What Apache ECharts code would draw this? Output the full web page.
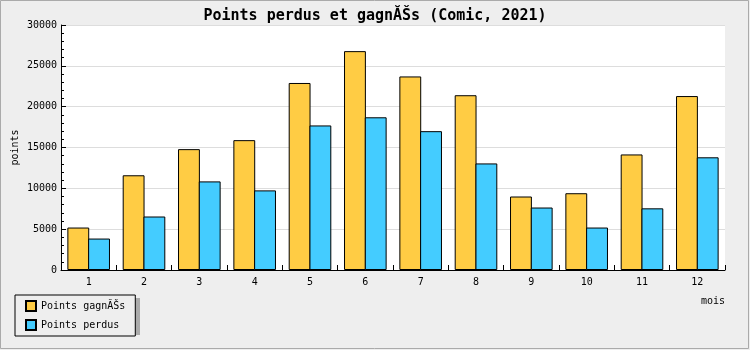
<!DOCTYPE html>
<html>
<head>
<meta charset="utf-8">
<script src="https://cdn.jsdelivr.net/npm/echarts@6/dist/echarts.min.js"></script>
<style>
html,body{margin:0;padding:0;background:#eeeeee;}
#c{width:750px;height:350px;}
</style>
</head>
<body>
<div id="c"></div>
<script>
var months = ['1','2','3','4','5','6','7','8','9','10','11','12'];
var gagnes = [5200, 11600, 14800, 15900, 22900, 26800, 23700, 21400, 9000, 9400, 14150, 21300];
var perdus = [3850, 6550, 10850, 9750, 17700, 18700, 17000, 13050, 7650, 5200, 7550, 13800];
var titleText = 'Points perdus et gagnĂŠs (Comic, 2021)';
var seriesNames = ['Points gagnĂŠs', 'Points perdus'];

var FONT = 'DejaVu Sans Mono';
var chart = echarts.init(document.getElementById('c'));
chart.setOption({
  backgroundColor: '#eeeeee',
  animation: false,
  textStyle: {fontFamily: FONT, color: '#000'},
  title: {
    text: titleText,
    left: 'center',
    top: 4,
    textStyle: {fontFamily: FONT, fontSize: 15, fontWeight: 'bold', color: '#000'}
  },
  graphic: [
    {type: 'rect', z: -10, silent: true, shape: {x: 0.5, y: 0.5, width: 748, height: 348},
     style: {fill: null, stroke: '#aaaaaa', lineWidth: 1}},
    {type: 'rect', z: 0, silent: true, shape: {x: 18, y: 298, width: 122, height: 37},
     style: {fill: '#aaaaaa'}}
  ],
  legend: {
    orient: 'vertical',
    left: 15,
    top: 295,
    z: 5,
    padding: [5, 10, 5, 10],
    itemWidth: 10,
    itemHeight: 10,
    itemGap: 7,
    itemTextGap: 6,
    icon: 'rect',
    backgroundColor: '#eeeeee',
    borderColor: '#000',
    borderWidth: 1,
    textStyle: {fontFamily: FONT, fontSize: 10, color: '#000'},
    data: seriesNames
  },
  grid: {
    left: 61, right: 25, top: 25, bottom: 80,
    containLabel: false,
    outerBoundsMode: 'none',
    show: true, backgroundColor: '#ffffff', borderWidth: 0
  },
  xAxis: {
    type: 'category',
    data: months,
    name: 'mois',
    nameLocation: 'end',
    nameGap: 0,
    nameMoveOverlap: false,
    nameTextStyle: {fontFamily: FONT, fontSize: 10, color: '#000', align: 'right', verticalAlign: 'top', padding: [26, 0, 0, 0]},
    axisLine: {show: true, lineStyle: {color: '#000', width: 1}},
    axisTick: {show: true, inside: true, length: 5, alignWithLabel: false, lineStyle: {color: '#000'}},
    axisLabel: {fontFamily: FONT, fontSize: 10, color: '#000', margin: 7},
    splitLine: {show: false}
  },
  yAxis: {
    type: 'value',
    min: 0,
    max: 30000,
    interval: 5000,
    name: 'points',
    nameLocation: 'middle',
    nameGap: 41,
    nameMoveOverlap: false,
    nameRotate: 90,
    nameTextStyle: {fontFamily: FONT, fontSize: 10, color: '#000'},
    axisLine: {show: true, lineStyle: {color: '#000', width: 1}},
    axisTick: {show: true, inside: true, length: 5, lineStyle: {color: '#000'}},
    minorTick: {show: true, splitNumber: 5, length: 3, lineStyle: {color: '#000'}},
    axisLabel: {fontFamily: FONT, fontSize: 10, color: '#000', margin: 4,
      formatter: function (v) { return String(v); }},
    splitLine: {show: true, lineStyle: {color: '#dddddd', width: 1}}
  },
  series: [
    {
      name: seriesNames[0], type: 'bar', data: gagnes,
      barCategoryGap: '23%', barGap: '-5%',
      itemStyle: {color: '#ffcc44', borderColor: '#000', borderWidth: 1}
    },
    {
      name: seriesNames[1], type: 'bar', data: perdus,
      barCategoryGap: '23%', barGap: '-5%',
      itemStyle: {color: '#44ccff', borderColor: '#000', borderWidth: 1}
    }
  ]
});
</script>
</body>
</html>
